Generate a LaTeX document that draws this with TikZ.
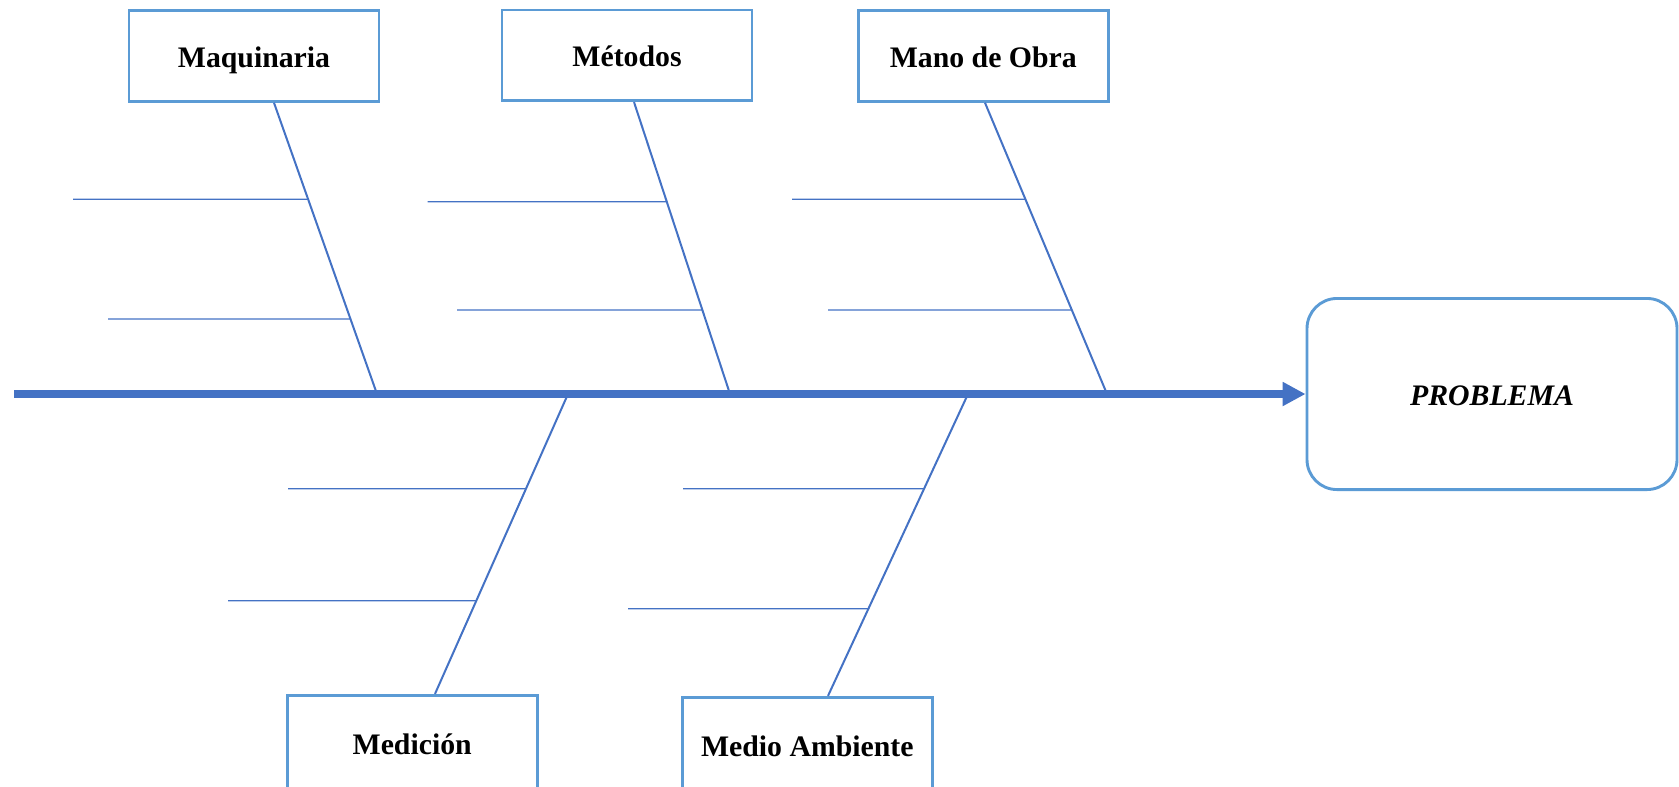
\documentclass[tikz,border=0pt]{standalone}
\usepackage{fontspec}
\setmainfont{Liberation Serif}
\usetikzlibrary{arrows.meta,calc}
\definecolor{spineblue}{HTML}{4472C4}
\definecolor{boxblue}{HTML}{5B9BD5}
\newcommand\ribline[4]{%
  \draw[rib] (intersection cs:first line={(#1)--(#2)}, second line={(0,#3)--(100,#3)}) -- (#4,#3);}
\begin{document}
\begin{tikzpicture}[x=0.45pt,y=-0.45pt,
  catbox/.style={draw=boxblue, line width=1.3pt, fill=white, minimum width=112.5pt,
    minimum height=40.8pt, inner sep=0pt, text height=10.3pt, text depth=0pt,
    font=\fontsize{13.4}{16}\selectfont\bfseries},
  lowbox/.style={catbox, minimum height=46pt, text depth=2.8pt},
  probbox/.style={draw=boxblue, line width=1.3pt, fill=white, rounded corners=13.5pt,
    minimum width=166.5pt, minimum height=86pt, inner sep=0pt, text height=10.3pt, text depth=0pt,
    font=\fontsize{13.4}{16}\selectfont\bfseries\itshape},
  spine/.style={draw=spineblue, line width=3.6pt, -{Triangle[length=10.3pt,width=10.2pt]}},
  bone/.style={draw=spineblue, line width=0.9pt},
  rib/.style={draw=spineblue, line width=0.6pt}]
\useasboundingbox (0,0) rectangle (1679,786);
\clip (0,0) rectangle (1679,786);

% category boxes
\node[catbox] (maq)  at (254,56)    {Maquinaria};
\node[catbox] (met)  at (627,55.3)  {Métodos};
\node[catbox] (mano) at (983.3,56)  {Mano de Obra};
\node[lowbox] (med)  at (412.2,746.4) {Medición};
\node[lowbox] (amb)  at (807.3,748.4) {Medio Ambiente};
\node[probbox] (prob) at (1492,394) {PROBLEMA};

% spine points
\coordinate (s0) at (14,394);
\coordinate (jmaq) at (377,394);
\coordinate (jmet) at (730,394);
\coordinate (jmano) at (1107,394);
\coordinate (jmed) at (568,394);
\coordinate (jamb) at (968,394);

% bone tops / bottoms
\coordinate (tmaq) at ($(maq.south)+(20,0)$);
\coordinate (tmet) at ($(met.south)+(7,0)$);
\coordinate (tmano) at ($(mano.south)+(1.7,0)$);
\coordinate (bmed) at ($(med.north)+(22.8,0)$);
\coordinate (bamb) at ($(amb.north)+(20.7,0)$);

% bones
\draw[bone] (tmaq) -- (jmaq);
\draw[bone] (tmet) -- (jmet);
\draw[bone] (tmano) -- (jmano);
\draw[bone] (jmed) -- (bmed);
\draw[bone] (jamb) -- (bamb);

% ribs
\ribline{tmaq}{jmaq}{199.3}{73}
\ribline{tmaq}{jmaq}{319}{108}
\ribline{tmet}{jmet}{201.7}{427.5}
\ribline{tmet}{jmet}{310}{457}
\ribline{tmano}{jmano}{199.3}{792}
\ribline{tmano}{jmano}{310}{828}
\ribline{jmed}{bmed}{488.7}{288}
\ribline{jmed}{bmed}{600.7}{228}
\ribline{jamb}{bamb}{488.7}{683}
\ribline{jamb}{bamb}{608.7}{628}

% spine
\draw[spine] (s0) -- (prob.west);
\end{tikzpicture}
\end{document}
